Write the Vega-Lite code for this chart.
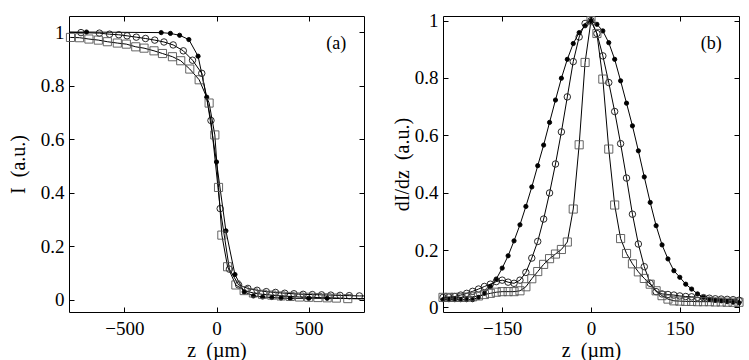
{
  "$schema": "https://vega.github.io/schema/vega-lite/v6.json",
  "padding": {"left": 7, "top": 11, "right": 0, "bottom": 0},
  "background": "white",
  "config": {
    "view": {"stroke": "#000", "strokeWidth": 1},
    "font": "Liberation Serif, Times New Roman, Times, serif",
    "axis": {
      "labelFont": "Liberation Serif, Times New Roman, Times, serif", "titleFont": "Liberation Serif, Times New Roman, Times, serif",
      "labelFontSize": 19, "titleFontSize": 20, "titleFontWeight": "normal",
      "labelColor": "#000", "titleColor": "#000", "tickColor": "#000",
      "tickSize": -5, "domain": false, "grid": false, "labelPadding": 10
    }
  },
  "bounds": "flush",
  "spacing": 79,
  "datasets": {
    "a": [
      {"s":"dot","k":"e","z":-800,"v":1.0},
      {"s":"dot","k":"p","z":-705,"v":1.0},
      {"s":"dot","k":"p","z":-300,"v":0.998},
      {"s":"dot","k":"p","z":-250,"v":0.995},
      {"s":"dot","k":"p","z":-200,"v":0.988},
      {"s":"dot","k":"p","z":-150,"v":0.972},
      {"s":"dot","k":"p","z":-100,"v":0.91},
      {"s":"dot","k":"p","z":-53,"v":0.757},
      {"s":"dot","k":"p","z":0,"v":0.515},
      {"s":"dot","k":"p","z":51,"v":0.258},
      {"s":"dot","k":"p","z":100,"v":0.095},
      {"s":"dot","k":"p","z":150,"v":0.03},
      {"s":"dot","k":"p","z":200,"v":0.015},
      {"s":"dot","k":"p","z":250,"v":0.011},
      {"s":"dot","k":"p","z":300,"v":0.009},
      {"s":"dot","k":"p","z":350,"v":0.007},
      {"s":"dot","k":"p","z":400,"v":0.006},
      {"s":"dot","k":"p","z":500,"v":0.006},
      {"s":"dot","k":"p","z":600,"v":0.006},
      {"s":"dot","k":"e","z":800,"v":0.005},
      {"s":"circle","k":"e","z":-800,"v":0.999},
      {"s":"circle","k":"p","z":-735,"v":0.998},
      {"s":"circle","k":"p","z":-635,"v":0.996},
      {"s":"circle","k":"p","z":-580,"v":0.992},
      {"s":"circle","k":"p","z":-530,"v":0.99},
      {"s":"circle","k":"p","z":-485,"v":0.986},
      {"s":"circle","k":"p","z":-435,"v":0.981},
      {"s":"circle","k":"p","z":-385,"v":0.976},
      {"s":"circle","k":"p","z":-335,"v":0.97},
      {"s":"circle","k":"p","z":-285,"v":0.963},
      {"s":"circle","k":"p","z":-235,"v":0.952},
      {"s":"circle","k":"p","z":-180,"v":0.93},
      {"s":"circle","k":"p","z":-130,"v":0.895},
      {"s":"circle","k":"p","z":-80,"v":0.846},
      {"s":"circle","k":"p","z":-30,"v":0.67},
      {"s":"circle","k":"p","z":20,"v":0.341},
      {"s":"circle","k":"p","z":70,"v":0.115},
      {"s":"circle","k":"p","z":120,"v":0.056},
      {"s":"circle","k":"p","z":170,"v":0.043},
      {"s":"circle","k":"p","z":220,"v":0.036},
      {"s":"circle","k":"p","z":270,"v":0.031},
      {"s":"circle","k":"p","z":320,"v":0.028},
      {"s":"circle","k":"p","z":370,"v":0.025},
      {"s":"circle","k":"p","z":420,"v":0.023},
      {"s":"circle","k":"p","z":470,"v":0.021},
      {"s":"circle","k":"p","z":520,"v":0.02},
      {"s":"circle","k":"p","z":570,"v":0.019},
      {"s":"circle","k":"p","z":620,"v":0.018},
      {"s":"circle","k":"p","z":670,"v":0.017},
      {"s":"circle","k":"p","z":720,"v":0.016},
      {"s":"circle","k":"p","z":775,"v":0.015},
      {"s":"circle","k":"e","z":800,"v":0.015},
      {"s":"square","k":"e","z":-800,"v":0.98},
      {"s":"square","k":"p","z":-792,"v":0.98},
      {"s":"square","k":"p","z":-743,"v":0.979},
      {"s":"square","k":"p","z":-692,"v":0.974},
      {"s":"square","k":"p","z":-641,"v":0.97},
      {"s":"square","k":"p","z":-592,"v":0.964},
      {"s":"square","k":"p","z":-538,"v":0.959},
      {"s":"square","k":"p","z":-489,"v":0.955},
      {"s":"square","k":"p","z":-438,"v":0.945},
      {"s":"square","k":"p","z":-393,"v":0.94},
      {"s":"square","k":"p","z":-339,"v":0.93},
      {"s":"square","k":"p","z":-293,"v":0.92},
      {"s":"square","k":"p","z":-239,"v":0.908},
      {"s":"square","k":"p","z":-194,"v":0.893},
      {"s":"square","k":"p","z":-145,"v":0.862},
      {"s":"square","k":"p","z":-94,"v":0.822},
      {"s":"square","k":"p","z":-40,"v":0.735},
      {"s":"square","k":"p","z":-9,"v":0.616},
      {"s":"square","k":"p","z":11,"v":0.42},
      {"s":"square","k":"p","z":29,"v":0.242},
      {"s":"square","k":"p","z":60,"v":0.124},
      {"s":"square","k":"p","z":105,"v":0.056},
      {"s":"square","k":"p","z":150,"v":0.035},
      {"s":"square","k":"p","z":200,"v":0.026},
      {"s":"square","k":"p","z":250,"v":0.021},
      {"s":"square","k":"p","z":300,"v":0.018},
      {"s":"square","k":"p","z":350,"v":0.015},
      {"s":"square","k":"p","z":400,"v":0.013},
      {"s":"square","k":"p","z":450,"v":0.011},
      {"s":"square","k":"p","z":500,"v":0.01},
      {"s":"square","k":"p","z":550,"v":0.009},
      {"s":"square","k":"p","z":600,"v":0.008},
      {"s":"square","k":"p","z":650,"v":0.007},
      {"s":"square","k":"p","z":712,"v":0.005},
      {"s":"square","k":"e","z":800,"v":0.004}
    ],
    "b": [
      {"s":"dot","z":-250,"v":0.027},{"s":"dot","z":-240,"v":0.027},{"s":"dot","z":-230,"v":0.027},{"s":"dot","z":-220,"v":0.027},{"s":"dot","z":-210,"v":0.027},
      {"s":"dot","z":-200,"v":0.027},{"s":"dot","z":-190,"v":0.035},{"s":"dot","z":-180,"v":0.049},{"s":"dot","z":-170,"v":0.073},{"s":"dot","z":-160,"v":0.099},
      {"s":"dot","z":-150,"v":0.137},{"s":"dot","z":-140,"v":0.18},{"s":"dot","z":-130,"v":0.232},{"s":"dot","z":-120,"v":0.288},{"s":"dot","z":-110,"v":0.352},
      {"s":"dot","z":-100,"v":0.42},{"s":"dot","z":-90,"v":0.494},{"s":"dot","z":-80,"v":0.566},{"s":"dot","z":-70,"v":0.645},{"s":"dot","z":-60,"v":0.723},
      {"s":"dot","z":-50,"v":0.799},{"s":"dot","z":-40,"v":0.865},{"s":"dot","z":-30,"v":0.92},{"s":"dot","z":-20,"v":0.958},{"s":"dot","z":-10,"v":0.982},
      {"s":"dot","z":0,"v":1.0},{"s":"dot","z":10,"v":0.987},{"s":"dot","z":20,"v":0.964},{"s":"dot","z":30,"v":0.923},{"s":"dot","z":40,"v":0.865},
      {"s":"dot","z":50,"v":0.79},{"s":"dot","z":60,"v":0.712},{"s":"dot","z":70,"v":0.633},{"s":"dot","z":80,"v":0.546},{"s":"dot","z":90,"v":0.455},
      {"s":"dot","z":100,"v":0.366},{"s":"dot","z":110,"v":0.285},{"s":"dot","z":120,"v":0.218},{"s":"dot","z":130,"v":0.169},{"s":"dot","z":140,"v":0.128},
      {"s":"dot","z":150,"v":0.105},{"s":"dot","z":160,"v":0.081},{"s":"dot","z":170,"v":0.064},{"s":"dot","z":180,"v":0.047},{"s":"dot","z":190,"v":0.035},
      {"s":"dot","z":200,"v":0.029},{"s":"dot","z":210,"v":0.025},{"s":"dot","z":220,"v":0.023},{"s":"dot","z":230,"v":0.02},{"s":"dot","z":240,"v":0.018},
      {"s":"dot","z":250,"v":0.016},
      {"s":"circle","z":-250,"v":0.035},{"s":"circle","z":-240,"v":0.036},{"s":"circle","z":-230,"v":0.038},{"s":"circle","z":-220,"v":0.043},{"s":"circle","z":-210,"v":0.049},
      {"s":"circle","z":-200,"v":0.056},{"s":"circle","z":-190,"v":0.064},{"s":"circle","z":-180,"v":0.073},{"s":"circle","z":-170,"v":0.081},{"s":"circle","z":-160,"v":0.09},
      {"s":"circle","z":-150,"v":0.095},{"s":"circle","z":-140,"v":0.088},{"s":"circle","z":-130,"v":0.084},{"s":"circle","z":-120,"v":0.095},{"s":"circle","z":-110,"v":0.122},
      {"s":"circle","z":-100,"v":0.172},{"s":"circle","z":-90,"v":0.23},{"s":"circle","z":-80,"v":0.308},{"s":"circle","z":-70,"v":0.399},{"s":"circle","z":-60,"v":0.5},
      {"s":"circle","z":-50,"v":0.612},{"s":"circle","z":-40,"v":0.734},{"s":"circle","z":-30,"v":0.857},{"s":"circle","z":-20,"v":0.943},{"s":"circle","z":-10,"v":0.99},
      {"s":"circle","z":0,"v":1.0},{"s":"circle","z":10,"v":0.955},{"s":"circle","z":20,"v":0.877},{"s":"circle","z":30,"v":0.784},{"s":"circle","z":40,"v":0.683},
      {"s":"circle","z":50,"v":0.571},{"s":"circle","z":60,"v":0.451},{"s":"circle","z":70,"v":0.325},{"s":"circle","z":80,"v":0.221},{"s":"circle","z":90,"v":0.142},
      {"s":"circle","z":100,"v":0.084},{"s":"circle","z":110,"v":0.055},{"s":"circle","z":120,"v":0.047},{"s":"circle","z":130,"v":0.045},{"s":"circle","z":140,"v":0.043},
      {"s":"circle","z":150,"v":0.04},{"s":"circle","z":160,"v":0.038},{"s":"circle","z":170,"v":0.037},{"s":"circle","z":180,"v":0.035},{"s":"circle","z":190,"v":0.034},
      {"s":"circle","z":200,"v":0.032},{"s":"circle","z":210,"v":0.03},{"s":"circle","z":220,"v":0.029},{"s":"circle","z":230,"v":0.028},{"s":"circle","z":240,"v":0.027},
      {"s":"circle","z":250,"v":0.025},
      {"s":"square","z":-250,"v":0.035},{"s":"square","z":-240,"v":0.035},{"s":"square","z":-230,"v":0.035},{"s":"square","z":-220,"v":0.035},{"s":"square","z":-210,"v":0.036},
      {"s":"square","z":-200,"v":0.037},{"s":"square","z":-190,"v":0.04},{"s":"square","z":-180,"v":0.045},{"s":"square","z":-170,"v":0.049},{"s":"square","z":-160,"v":0.053},
      {"s":"square","z":-150,"v":0.055},{"s":"square","z":-140,"v":0.055},{"s":"square","z":-130,"v":0.055},{"s":"square","z":-120,"v":0.058},{"s":"square","z":-110,"v":0.072},
      {"s":"square","z":-100,"v":0.1},{"s":"square","z":-90,"v":0.125},{"s":"square","z":-80,"v":0.15},{"s":"square","z":-70,"v":0.17},{"s":"square","z":-60,"v":0.186},
      {"s":"square","z":-50,"v":0.202},{"s":"square","z":-40,"v":0.228},{"s":"square","z":-30,"v":0.343},{"s":"square","z":-20,"v":0.567},{"s":"square","z":-10,"v":0.854},
      {"s":"square","z":0,"v":1.0},{"s":"square","z":10,"v":0.955},{"s":"square","z":20,"v":0.796},{"s":"square","z":30,"v":0.552},{"s":"square","z":40,"v":0.357},
      {"s":"square","z":50,"v":0.24},{"s":"square","z":60,"v":0.188},{"s":"square","z":70,"v":0.152},{"s":"square","z":80,"v":0.124},{"s":"square","z":90,"v":0.101},
      {"s":"square","z":100,"v":0.081},{"s":"square","z":110,"v":0.058},{"s":"square","z":120,"v":0.041},{"s":"square","z":130,"v":0.029},{"s":"square","z":140,"v":0.023},
      {"s":"square","z":150,"v":0.022},{"s":"square","z":160,"v":0.021},{"s":"square","z":170,"v":0.021},{"s":"square","z":180,"v":0.02},{"s":"square","z":190,"v":0.02},
      {"s":"square","z":200,"v":0.02},{"s":"square","z":210,"v":0.019},{"s":"square","z":220,"v":0.019},{"s":"square","z":230,"v":0.018},{"s":"square","z":240,"v":0.018},
      {"s":"square","z":250,"v":0.018}
    ]
  },
  "hconcat": [
    {
      "width": 295, "height": 296,
      "data": {"name": "a"},
      "layer": [
        {
          "mark": {"type": "line", "color": "#000", "strokeWidth": 1},
          "encoding": {
            "x": {"field": "z", "type": "quantitative", "scale": {"domain": [-800, 800], "nice": false, "zero": false},
                  "axis": {"values": [-500, 0, 500], "title": "z\u00a0\u00a0(µm)", "labelPadding": 12, "titlePadding": 2}},
            "y": {"field": "v", "type": "quantitative", "scale": {"domain": [-0.045, 1.06], "nice": false, "zero": false},
                  "axis": {"values": [0, 0.2, 0.4, 0.6, 0.8, 1], "format": "~g", "title": "I\u00a0\u00a0(a.u.)", "titleX": -51, "titleBaseline": "middle"}},
            "detail": {"field": "s", "type": "nominal"}
          }
        },
        {
          "transform": [{"filter": "datum.k == 'p'"}],
          "mark": {"type": "point", "filled": true, "strokeWidth": 0.9, "opacity": 1},
          "encoding": {
            "x": {"field": "z", "type": "quantitative", "axis": {"orient": "top", "values": [-500, 0, 500], "labels": false, "title": null}},
            "y": {"field": "v", "type": "quantitative", "axis": {"orient": "right", "values": [0, 0.2, 0.4, 0.6, 0.8, 1], "labels": false, "title": null}},
            "shape": {"field": "s", "type": "nominal", "scale": {"domain": ["dot", "circle", "square"], "range": ["circle", "circle", "square"]}, "legend": null},
            "fill": {"field": "s", "type": "nominal", "scale": {"domain": ["dot", "circle", "square"], "range": ["#000000", "rgba(255,255,255,0)", "rgba(255,255,255,0)"]}, "legend": null},
            "stroke": {"field": "s", "type": "nominal", "scale": {"domain": ["dot", "circle", "square"], "range": ["#000000", "#111111", "#555555"]}, "legend": null},
            "size": {"field": "s", "type": "nominal", "scale": {"domain": ["dot", "circle", "square"], "range": [18, 66, 32]}, "legend": null}
          }
        },
        {
          "data": {"values": [{"z": 650, "v": 0.957, "t": "(a)"}]},
          "mark": {"type": "text", "fontSize": 18, "font": "Liberation Serif, Times New Roman, Times, serif", "color": "#000"},
          "encoding": {
            "x": {"field": "z", "type": "quantitative", "axis": null},
            "y": {"field": "v", "type": "quantitative", "axis": null},
            "text": {"field": "t"}
          }
        }
      ],
      "resolve": {"axis": {"x": "independent", "y": "independent"}}
    },
    {
      "width": 296, "height": 296,
      "data": {"name": "b"},
      "layer": [
        {
          "mark": {"type": "line", "color": "#000", "strokeWidth": 1},
          "encoding": {
            "x": {"field": "z", "type": "quantitative", "scale": {"domain": [-250, 250], "nice": false, "zero": false},
                  "axis": {"values": [-150, 0, 150], "title": "z\u00a0\u00a0(µm)", "labelPadding": 12, "titlePadding": 2}},
            "y": {"field": "v", "type": "quantitative", "scale": {"domain": [-0.016, 1.016], "nice": false, "zero": false},
                  "axis": {"values": [0, 0.2, 0.4, 0.6, 0.8, 1], "format": "~g", "title": "dI/dz\u00a0\u00a0(a.u.)", "titleX": -41, "titleBaseline": "middle"}},
            "detail": {"field": "s", "type": "nominal"}
          }
        },
        {
          "mark": {"type": "point", "filled": true, "strokeWidth": 0.9, "opacity": 1},
          "encoding": {
            "x": {"field": "z", "type": "quantitative", "axis": {"orient": "top", "values": [-150, 0, 150], "labels": false, "title": null}},
            "y": {"field": "v", "type": "quantitative", "axis": {"orient": "right", "values": [0, 0.2, 0.4, 0.6, 0.8, 1], "labels": false, "title": null}},
            "shape": {"field": "s", "type": "nominal", "scale": {"domain": ["dot", "circle", "square"], "range": ["circle", "circle", "square"]}, "legend": null},
            "fill": {"field": "s", "type": "nominal", "scale": {"domain": ["dot", "circle", "square"], "range": ["#000000", "rgba(255,255,255,0)", "rgba(255,255,255,0)"]}, "legend": null},
            "stroke": {"field": "s", "type": "nominal", "scale": {"domain": ["dot", "circle", "square"], "range": ["#000000", "#111111", "#555555"]}, "legend": null},
            "size": {"field": "s", "type": "nominal", "scale": {"domain": ["dot", "circle", "square"], "range": [14, 56, 28]}, "legend": null}
          }
        },
        {
          "data": {"values": [{"z": 203, "v": 0.92, "t": "(b)"}]},
          "mark": {"type": "text", "fontSize": 18, "font": "Liberation Serif, Times New Roman, Times, serif", "color": "#000"},
          "encoding": {
            "x": {"field": "z", "type": "quantitative", "axis": null},
            "y": {"field": "v", "type": "quantitative", "axis": null},
            "text": {"field": "t"}
          }
        }
      ],
      "resolve": {"axis": {"x": "independent", "y": "independent"}}
    }
  ]
}
